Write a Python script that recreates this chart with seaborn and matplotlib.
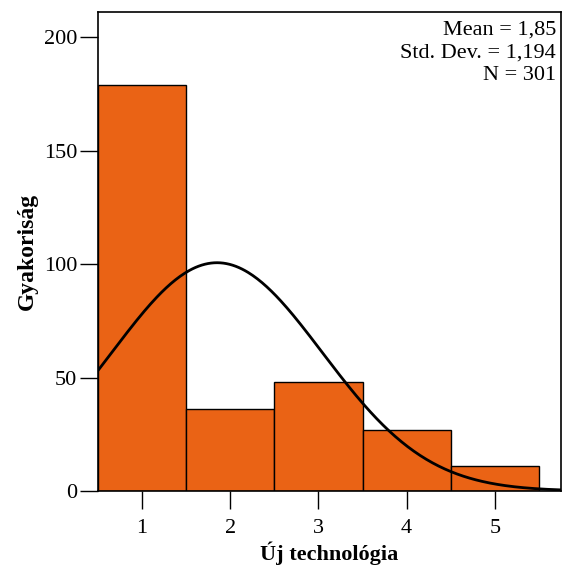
import numpy as np
import pandas as pd
import matplotlib
matplotlib.use("Agg")
import matplotlib.pyplot as plt
import seaborn as sns

# Adatok
kategoriak = [1, 2, 3, 4, 5]
gyakorisag = [179, 36, 48, 27, 11]
atlag = 1.85
szoras = 1.194
n_ossz = 301

df = pd.DataFrame({"ertek": kategoriak, "db": gyakorisag})

sns.set_style("ticks")
plt.rcParams["font.family"] = ["Liberation Serif", "DejaVu Serif"]
plt.rcParams["font.size"] = 16
plt.rcParams["text.color"] = "black"
plt.rcParams["axes.labelcolor"] = "black"

fig = plt.figure(figsize=(5.68, 5.74), dpi=100)
ax = fig.add_axes([0.1725, 0.1446, 0.8152, 0.8344])

sns.histplot(data=df, x="ertek", weights="db", discrete=True,
             color="#EA6315", alpha=1, edgecolor="black", linewidth=1,
             ax=ax)

# illesztett normál görbe
xs = np.linspace(0.5, 5.75, 300)
ys = n_ossz * np.exp(-0.5 * ((xs - atlag) / szoras) ** 2) / (szoras * np.sqrt(2 * np.pi))
sns.lineplot(x=xs, y=ys, color="black", linewidth=2, ax=ax)

ax.set_xlim(0.5, 5.75)
ax.set_ylim(0, 211)
ax.set_xticks(kategoriak)
ax.set_yticks([0, 50, 100, 150, 200])
ax.tick_params(length=13, width=1, pad=2, labelsize=16, colors="black")
ax.tick_params(axis="x", pad=7)
for s in ax.spines.values():
    s.set_visible(True)
    s.set_linewidth(1.2)
    s.set_color("black")

ax.set_xlabel("Új technológia", fontweight="bold", fontsize=16, labelpad=3)
ax.set_ylabel("Gyakoriság", fontweight="bold", fontsize=17, labelpad=4)

szoveg = ("Mean = " + f"{atlag:.2f}".replace(".", ",") + "\n"
          + "Std. Dev. = " + f"{szoras:.3f}".replace(".", ",") + "\n"
          + f"N = {n_ossz}")
ax.text(0.989, 0.982, szoveg, transform=ax.transAxes, ha="right", va="top",
        fontsize=16, linespacing=1.27)

fig.savefig("out.png", dpi=100)
